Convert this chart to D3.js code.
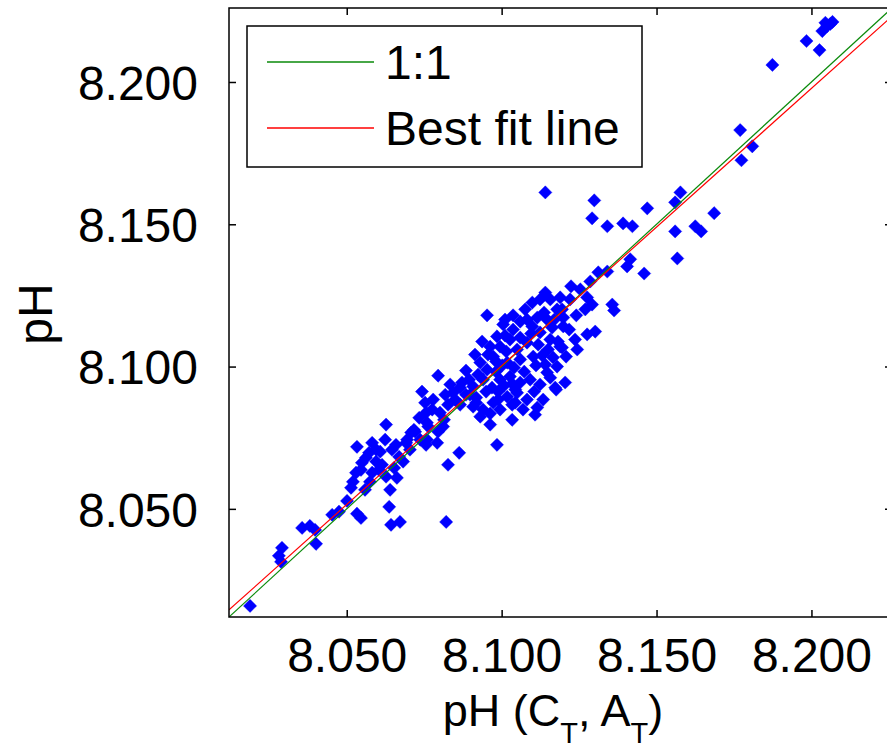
<!DOCTYPE html>
<html>
<head>
<meta charset="utf-8">
<script src="https://cdn.jsdelivr.net/npm/d3@7"></script>
<style>
  body { margin: 0; background: #fff; }
  svg { display: block; font-family: "Liberation Sans", Arial, sans-serif; }
</style>
</head>
<body>
<svg id="chart" width="887" height="753"></svg>
<script>
// pH from C_T, A_T (x) vs measured pH (y)
var phCalc = [
  8.0188, 8.0291, 8.0288, 8.0281, 8.0356, 8.0381, 8.0398, 8.0401, 8.0453, 8.0475,
  8.0501, 8.0533, 8.0546, 8.0514, 8.0520, 8.0533, 8.0530, 8.0546, 8.0549, 8.0562,
  8.0572, 8.0582, 8.0595, 8.0595, 8.0604, 8.0582, 8.0627, 8.0637, 8.0643, 8.0672,
  8.0627, 8.0662, 8.0646, 8.0659, 8.0669, 8.0692, 8.0708, 8.0717, 8.0756, 8.0759,
  8.0756, 8.0614, 8.0821, 8.0695, 8.0721, 8.0759, 8.0792, 8.0763, 8.0811, 8.0776,
  8.0801, 8.0779, 8.0743, 8.0795, 8.0834, 8.0843, 8.0863, 8.0827, 8.0985, 8.0885,
  8.0908, 8.0940, 8.0931, 8.0953, 8.0953, 8.1005, 8.0985, 8.1027, 8.0995, 8.0973,
  8.0963, 8.1050, 8.1082, 8.1037, 8.1018, 8.1060, 8.1102, 8.0995, 8.1027, 8.1060,
  8.1092, 8.0908, 8.0940, 8.0973, 8.0931, 8.1018, 8.1050, 8.1082, 8.1134, 8.1069,
  8.1141, 8.1099, 8.1082, 8.1124, 8.1147, 8.1157, 8.1189, 8.1179, 8.1147, 8.1205,
  8.1189, 8.1179, 8.1199, 8.1141, 8.1299, 8.1292, 8.1341, 8.1392, 8.1422, 8.1470,
  8.1577, 8.1560, 8.1686, 8.1625, 8.1644, 8.1560, 8.1567, 8.1415, 8.1405, 8.1460,
  8.1341, 8.1312, 8.1286, 8.1224, 8.1276, 8.1292, 8.1357, 8.1363, 8.1241, 8.1195,
  8.1276, 8.1302, 8.1244, 8.1195, 8.1770, 8.1809, 8.1774, 8.2051, 8.2061, 8.2035,
  8.1984, 8.2026, 8.1874, 8.2045, 8.2068,
  8.0898, 8.0918, 8.0950, 8.0969, 8.0989, 8.1008, 8.1034, 8.0982, 8.1002, 8.1040,
  8.1073, 8.1111, 8.1131, 8.1150, 8.1166, 8.1118, 8.1095, 8.1060, 8.1015, 8.0982,
  8.0956, 8.0924, 8.0895, 8.0872, 8.0885, 8.0918, 8.0963, 8.0995, 8.1034, 8.1105,
  8.1124, 8.1157, 8.1173, 8.1182, 8.1163, 8.1137, 8.1115, 8.1099, 8.1060, 8.1037,
  8.1011, 8.0937, 8.0866, 8.0850, 8.0827, 8.0814, 8.0795, 8.0737, 8.0704, 8.0682,
  8.0653, 8.0640, 8.0575, 8.0559, 8.0608, 8.0624, 8.0734, 8.0753, 8.0818, 8.0963,
  8.1034, 8.1115, 8.1044, 8.1141, 8.1170, 8.1199, 8.1221, 8.1254, 8.1270, 8.1218,
  8.1237, 8.1208,
  8.0914, 8.1011, 8.1076, 8.1124, 8.1044, 8.1108, 8.0989, 8.0866, 8.1157, 8.1176
];

var phMeas = [
  8.0159, 8.0363, 8.0314, 8.0335, 8.0433, 8.0440, 8.0426, 8.0377, 8.0479, 8.0490,
  8.0528, 8.0483, 8.0468, 8.0574, 8.0595, 8.0718, 8.0627, 8.0637, 8.0662, 8.0680,
  8.0697, 8.0732, 8.0708, 8.0666, 8.0637, 8.0627, 8.0796, 8.0507, 8.0444, 8.0454,
  8.0613, 8.0609, 8.0708, 8.0725, 8.0683, 8.0732, 8.0768, 8.0778, 8.0838, 8.0803,
  8.0725, 8.0655, 8.0454, 8.0743, 8.0771, 8.0743, 8.0732, 8.0789, 8.0789, 8.0849,
  8.0838, 8.0884, 8.0912, 8.0968, 8.0937, 8.0908, 8.0697, 8.0655, 8.0725, 8.0986,
  8.0930, 8.0954, 8.1014, 8.0989, 8.1180, 8.1148, 8.1106, 8.1095, 8.1070, 8.1035,
  8.1070, 8.1060, 8.1084, 8.1130, 8.1014, 8.1025, 8.1035, 8.0954, 8.0965, 8.0944,
  8.0954, 8.0859, 8.0849, 8.0873, 8.0824, 8.0894, 8.0908, 8.0884, 8.0884, 8.0849,
  8.1260, 8.1225, 8.1165, 8.1120, 8.1165, 8.1095, 8.1070, 8.1000, 8.0979, 8.0944,
  8.1243, 8.1201, 8.1141, 8.1612, 8.1584, 8.1521, 8.1493, 8.1503, 8.1493, 8.1556,
  8.1612, 8.1577, 8.1539, 8.1493, 8.1475, 8.1475, 8.1380, 8.1377, 8.1352, 8.1327,
  8.1334, 8.1331, 8.1299, 8.1282, 8.1243, 8.1218, 8.1218, 8.1197, 8.1180, 8.1201,
  8.1113, 8.1123, 8.1060, 8.1067, 8.1831, 8.1774, 8.1725, 8.2197, 8.2204, 8.2179,
  8.2144, 8.2112, 8.2060, 8.2208, 8.2211,
  8.0901, 8.0891, 8.0912, 8.0926, 8.0912, 8.0933, 8.0940, 8.0982, 8.1004, 8.0996,
  8.0982, 8.1004, 8.1039, 8.1060, 8.1032, 8.1077, 8.1116, 8.1102, 8.1053, 8.1018,
  8.1042, 8.0972, 8.0954, 8.0944, 8.0901, 8.0873, 8.0835, 8.0849, 8.0866, 8.0912,
  8.0937, 8.0961, 8.0926, 8.1088, 8.1137, 8.1190, 8.1172, 8.1141, 8.1158, 8.1180,
  8.1109, 8.1088, 8.0926, 8.0884, 8.0866, 8.0813, 8.0771, 8.0743, 8.0708, 8.0666,
  8.0644, 8.0567, 8.0595, 8.0567, 8.0701, 8.0743, 8.0820, 8.0873, 8.0901, 8.0796,
  8.0813, 8.0856, 8.0873, 8.1007, 8.1165, 8.1172, 8.1236, 8.1271, 8.1201, 8.1130,
  8.1095, 8.1035,
  8.1042, 8.1165, 8.1201, 8.1236, 8.0919, 8.0831, 8.0884, 8.0866, 8.1236, 8.0919
];

var oneToOne = [[8.012, 8.012], [8.226, 8.226]];
var bestFit  = [[8.012, 8.0145], [8.226, 8.2231]];

var tickVals = [8.05, 8.10, 8.15, 8.20];
var legendNames = ["1:1", "Best fit line"];
var legendColors = ["#0a8a0a", "#ff0000"];

var svg = d3.select("#chart");
var margin = {left: 229, top: 8},
    width = 663,
    height = 609;

svg.append("rect").attr("width", 887).attr("height", 753).attr("fill", "#fff");

var x = d3.scaleLinear().domain([8.012, 8.226]).range([0, width]);
var y = d3.scaleLinear().domain([8.012, 8.226]).range([height, 0]);

var g = svg.append("g")
    .attr("transform", "translate(" + margin.left + "," + margin.top + ")");

g.append("clipPath").attr("id", "clip")
  .append("rect").attr("width", width).attr("height", height);

var plot = g.append("g").attr("clip-path", "url(#clip)");

// scatter markers (diamonds)
var pts = phCalc.map(function(d, i) { return [d, phMeas[i]]; });
plot.selectAll("path.pt")
    .data(pts)
  .enter().append("path")
    .attr("class", "pt")
    .attr("d", "M0,-6.6L6.6,0L0,6.6L-6.6,0Z")
    .attr("transform", function(d) { return "translate(" + x(d[0]) + "," + y(d[1]) + ")"; })
    .attr("fill", "#0000ff")
    .attr("stroke", "#0000ff")
    .attr("stroke-width", 0.4);

var line = d3.line()
    .x(function(d) { return x(d[0]); })
    .y(function(d) { return y(d[1]); });

plot.append("path").datum(oneToOne)
    .attr("d", line).attr("fill", "none")
    .attr("stroke", legendColors[0]).attr("stroke-width", 1.2);
plot.append("path").datum(bestFit)
    .attr("d", line).attr("fill", "none")
    .attr("stroke", legendColors[1]).attr("stroke-width", 1.2);

// axes, ticks pointing inward on all four sides
var fmt = d3.format(".3f");
var axL = g.append("g")
    .call(d3.axisLeft(y).tickValues(tickVals).tickSize(-7).tickSizeOuter(0).tickPadding(31).tickFormat(fmt));
var axB = g.append("g")
    .attr("transform", "translate(0," + height + ")")
    .call(d3.axisBottom(x).tickValues(tickVals).tickSize(-7).tickSizeOuter(0).tickPadding(21).tickFormat(fmt));
var axT = g.append("g")
    .call(d3.axisTop(x).tickValues(tickVals).tickSize(-7).tickSizeOuter(0).tickFormat(""));
var axR = g.append("g")
    .attr("transform", "translate(" + width + ",0)")
    .call(d3.axisRight(y).tickValues(tickVals).tickSize(-7).tickSizeOuter(0).tickFormat(""));

[axL, axB, axT, axR].forEach(function(a) {
  a.select(".domain").remove();
  a.selectAll(".tick line").attr("stroke", "#000").attr("stroke-width", 1.5);
  a.selectAll("text")
    .attr("fill", "#000")
    .style("font-size", "48px")
    .style("font-family", "'Liberation Sans', Arial, sans-serif");
});
axL.selectAll("text").attr("dy", "0.36em");

g.append("rect")
    .attr("width", width).attr("height", height)
    .attr("fill", "none").attr("stroke", "#000").attr("stroke-width", 1.5);

// legend
var leg = svg.append("g");
leg.append("rect")
    .attr("x", 247).attr("y", 26).attr("width", 395).attr("height", 141)
    .attr("fill", "#fff").attr("stroke", "#000").attr("stroke-width", 1.5);
var legRows = leg.selectAll("g.row")
    .data(legendNames)
  .enter().append("g")
    .attr("class", "row")
    .attr("transform", function(d, i) { return "translate(0," + (62 + i * 66) + ")"; });
legRows.append("line")
    .attr("x1", 267).attr("x2", 374)
    .attr("stroke", function(d, i) { return legendColors[i]; })
    .attr("stroke-width", 1.5);
legRows.append("text")
    .attr("x", 385).attr("dy", "0.36em")
    .style("font-size", "48px")
    .text(function(d) { return d; });

// axis labels
svg.append("text")
    .attr("transform", "translate(52,314) rotate(-90)")
    .attr("text-anchor", "middle")
    .style("font-size", "48px")
    .text("pH");

var xl = svg.append("text")
    .attr("x", 553).attr("y", 726)
    .attr("text-anchor", "middle")
    .style("font-size", "45px");
xl.append("tspan").text("pH (C");
xl.append("tspan").attr("dy", 17).style("font-size", "29px").text("T");
xl.append("tspan").attr("dy", -17).text(", A");
xl.append("tspan").attr("dy", 17).style("font-size", "29px").text("T");
xl.append("tspan").attr("dy", -17).text(")");
</script>
</body>
</html>
